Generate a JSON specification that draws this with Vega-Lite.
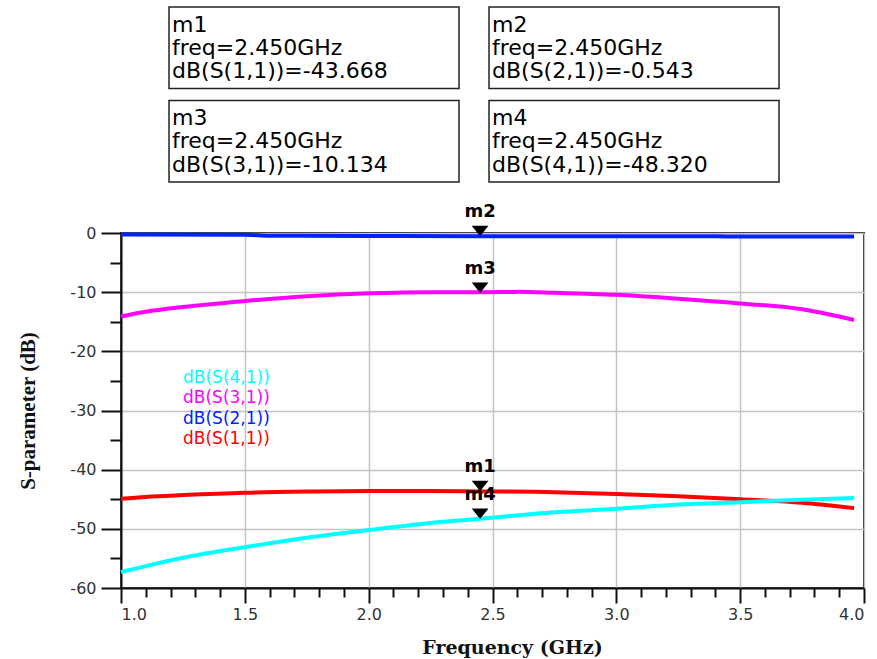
{
  "$schema": "https://vega.github.io/schema/vega-lite/v6.json",
  "background": "white",
  "padding": {"left": 16, "top": 6, "right": 14, "bottom": 5},
  "datasets": {
    "curves": [
      {"series": "dB(S(1,1))", "freq": 1.0, "dB": -44.9},
      {"series": "dB(S(1,1))", "freq": 1.1, "dB": -44.6},
      {"series": "dB(S(1,1))", "freq": 1.25, "dB": -44.3},
      {"series": "dB(S(1,1))", "freq": 1.5, "dB": -43.9},
      {"series": "dB(S(1,1))", "freq": 1.75, "dB": -43.7},
      {"series": "dB(S(1,1))", "freq": 2.0, "dB": -43.6},
      {"series": "dB(S(1,1))", "freq": 2.25, "dB": -43.6},
      {"series": "dB(S(1,1))", "freq": 2.45, "dB": -43.67},
      {"series": "dB(S(1,1))", "freq": 2.75, "dB": -43.8},
      {"series": "dB(S(1,1))", "freq": 3.0, "dB": -44.1},
      {"series": "dB(S(1,1))", "freq": 3.25, "dB": -44.5},
      {"series": "dB(S(1,1))", "freq": 3.5, "dB": -45.0},
      {"series": "dB(S(1,1))", "freq": 3.75, "dB": -45.6},
      {"series": "dB(S(1,1))", "freq": 3.96, "dB": -46.5},
      {"series": "dB(S(2,1))", "freq": 1.0, "dB": -0.25},
      {"series": "dB(S(2,1))", "freq": 1.5, "dB": -0.3},
      {"series": "dB(S(2,1))", "freq": 1.6, "dB": -0.45},
      {"series": "dB(S(2,1))", "freq": 2.0, "dB": -0.5},
      {"series": "dB(S(2,1))", "freq": 2.45, "dB": -0.54},
      {"series": "dB(S(2,1))", "freq": 3.0, "dB": -0.55},
      {"series": "dB(S(2,1))", "freq": 3.4, "dB": -0.55},
      {"series": "dB(S(2,1))", "freq": 3.5, "dB": -0.6},
      {"series": "dB(S(2,1))", "freq": 3.96, "dB": -0.6},
      {"series": "dB(S(3,1))", "freq": 1.0, "dB": -14.1},
      {"series": "dB(S(3,1))", "freq": 1.1, "dB": -13.3},
      {"series": "dB(S(3,1))", "freq": 1.25, "dB": -12.5},
      {"series": "dB(S(3,1))", "freq": 1.5, "dB": -11.5},
      {"series": "dB(S(3,1))", "freq": 1.75, "dB": -10.7},
      {"series": "dB(S(3,1))", "freq": 2.0, "dB": -10.2},
      {"series": "dB(S(3,1))", "freq": 2.25, "dB": -10.0},
      {"series": "dB(S(3,1))", "freq": 2.45, "dB": -10.0},
      {"series": "dB(S(3,1))", "freq": 2.6, "dB": -9.95},
      {"series": "dB(S(3,1))", "freq": 2.75, "dB": -10.1},
      {"series": "dB(S(3,1))", "freq": 3.0, "dB": -10.45},
      {"series": "dB(S(3,1))", "freq": 3.25, "dB": -11.1},
      {"series": "dB(S(3,1))", "freq": 3.5, "dB": -11.9},
      {"series": "dB(S(3,1))", "freq": 3.75, "dB": -12.9},
      {"series": "dB(S(3,1))", "freq": 3.96, "dB": -14.7},
      {"series": "dB(S(4,1))", "freq": 1.0, "dB": -57.3},
      {"series": "dB(S(4,1))", "freq": 1.1, "dB": -56.3},
      {"series": "dB(S(4,1))", "freq": 1.25, "dB": -54.9},
      {"series": "dB(S(4,1))", "freq": 1.5, "dB": -53.1},
      {"series": "dB(S(4,1))", "freq": 1.75, "dB": -51.5},
      {"series": "dB(S(4,1))", "freq": 2.0, "dB": -50.2},
      {"series": "dB(S(4,1))", "freq": 2.25, "dB": -49.0},
      {"series": "dB(S(4,1))", "freq": 2.45, "dB": -48.3},
      {"series": "dB(S(4,1))", "freq": 2.75, "dB": -47.2},
      {"series": "dB(S(4,1))", "freq": 3.0, "dB": -46.6},
      {"series": "dB(S(4,1))", "freq": 3.25, "dB": -45.9},
      {"series": "dB(S(4,1))", "freq": 3.5, "dB": -45.5},
      {"series": "dB(S(4,1))", "freq": 3.75, "dB": -45.1},
      {"series": "dB(S(4,1))", "freq": 3.96, "dB": -44.8}
    ],
    "markers": [
      {"marker": "m1", "freq": 2.45, "dB": -43.668, "col": "L", "row": "T", "box": "m1\nfreq=2.450GHz\ndB(S(1,1))=-43.668"},
      {"marker": "m2", "freq": 2.45, "dB": -0.543, "col": "R", "row": "T", "box": "m2\nfreq=2.450GHz\ndB(S(2,1))=-0.543"},
      {"marker": "m3", "freq": 2.45, "dB": -10.134, "col": "L", "row": "B", "box": "m3\nfreq=2.450GHz\ndB(S(3,1))=-10.134"},
      {"marker": "m4", "freq": 2.45, "dB": -48.32, "col": "R", "row": "B", "box": "m4\nfreq=2.450GHz\ndB(S(4,1))=-48.320"}
    ]
  },
  "bounds": "flush",
  "spacing": 51,
  "vconcat": [
    {
      "width": 743,
      "height": 175,
      "view": {"stroke": null},
      "data": {"name": "markers"},
      "encoding": {
        "x": {"field": "col", "type": "nominal", "scale": {"type": "band", "domain": ["L", "R"], "paddingInner": 0.09375, "paddingOuter": 0.2078, "align": 0.361}, "axis": null},
        "y": {"field": "row", "type": "nominal", "scale": {"type": "band", "domain": ["T", "B"], "paddingInner": 0.1283, "paddingOuter": 0}, "axis": null}
      },
      "layer": [
        {"mark": {"type": "rect", "fill": "white", "stroke": "#222", "strokeWidth": 1.5}},
        {
          "mark": {"type": "text", "align": "left", "baseline": "alphabetic", "dx": 3, "dy": 24.7, "fontSize": 22, "lineHeight": 23.3, "lineBreak": "\n", "font": "DejaVu Sans", "color": "black"},
          "encoding": {
            "x": {"field": "col", "type": "nominal", "bandPosition": 0, "axis": null},
            "y": {"field": "row", "type": "nominal", "bandPosition": 0, "axis": null},
            "text": {"field": "box"}
          }
        }
      ]
    },
    {
      "width": 743,
      "height": 355,
      "data": {"name": "curves"},
      "layer": [
        {
          "mark": {"type": "line", "strokeWidth": 4, "interpolate": "monotone", "clip": false},
          "encoding": {
            "x": {
              "field": "freq", "type": "quantitative",
              "scale": {"domain": [1, 4], "nice": false, "zero": false},
              "axis": {"orient": "bottom", "values": [1, 1.5, 2, 2.5, 3, 3.5, 4], "format": ".1f", "grid": true, "tickSize": 15, "labelPadding": 3, "title": "Frequency (GHz)", "titleFont": "DejaVu Serif", "titleFontSize": 19, "titleX": 391, "titleY": 50, "titleBaseline": "top"}
            },
            "y": {
              "field": "dB", "type": "quantitative",
              "scale": {"domain": [-60, 0], "nice": false},
              "axis": {"orient": "left", "values": [-60, -50, -40, -30, -20, -10, 0], "labelExpr": "replace(datum.label, '\u2212', '-')", "grid": true, "tickSize": 20, "labelPadding": 5, "title": "S-parameter (dB)", "titleX": -83, "titleY": 177.5}
            },
            "color": {
              "field": "series", "type": "nominal",
              "scale": {"domain": ["dB(S(4,1))", "dB(S(3,1))", "dB(S(2,1))", "dB(S(1,1))"], "range": ["#00FFFF", "#FF00FF", "#0022FF", "#FF0000"]},
              "legend": {"orient": "none", "legendX": 45, "legendY": 362, "title": null, "padding": 0, "symbolSize": 0, "symbolOpacity": 0, "symbolStrokeWidth": 0, "labelOffset": 0, "rowPadding": 2.5, "labelFont": "DejaVu Sans", "labelFontSize": 17, "labelLimit": 300, "labelColor": {"expr": "scale('color', datum.value)"}}
            }
          }
        },
        {
          "data": {"name": "markers"},
          "mark": {"type": "point", "shape": "M-1.2,-1.5L1.2,-1.5L0,0Z", "size": 196, "filled": true, "color": "black", "opacity": 1, "strokeWidth": 0},
          "encoding": {
            "x": {"field": "freq", "type": "quantitative", "axis": {"orient": "bottom", "values": [1.1, 1.2, 1.3, 1.4, 1.6, 1.7, 1.8, 1.9, 2.1, 2.2, 2.3, 2.4, 2.6, 2.7, 2.8, 2.9, 3.1, 3.2, 3.3, 3.4, 3.6, 3.7, 3.8, 3.9], "labels": false, "grid": false, "domain": false, "tickSize": 9, "title": null}},
            "y": {"field": "dB", "type": "quantitative", "axis": {"orient": "left", "values": [-55, -45, -35, -25, -15, -5], "labels": false, "grid": false, "domain": false, "tickSize": 11, "title": null}}
          }
        },
        {
          "data": {"name": "markers"},
          "mark": {"type": "text", "font": "DejaVu Sans", "fontWeight": "bold", "fontSize": 18, "dy": -19, "baseline": "alphabetic", "align": "center", "color": "black"},
          "encoding": {
            "x": {"field": "freq", "type": "quantitative", "axis": null},
            "y": {"field": "dB", "type": "quantitative", "axis": null},
            "text": {"field": "marker"}
          }
        }
      ],
      "resolve": {"axis": {"x": "independent", "y": "independent"}}
    }
  ],
  "config": {
    "font": "DejaVu Sans",
    "view": {"stroke": "#222", "strokeWidth": 2},
    "axis": {
      "labelFont": "DejaVu Sans", "labelFontSize": 16, "labelColor": "#333",
      "tickColor": "#111", "tickWidth": 2, "domainColor": "#111", "domainWidth": 2,
      "gridColor": "#c4c4c4", "gridWidth": 1.5,
      "titleFont": "Liberation Serif", "titleFontWeight": "bold", "titleFontSize": 21, "titleColor": "#111"
    }
  }
}
